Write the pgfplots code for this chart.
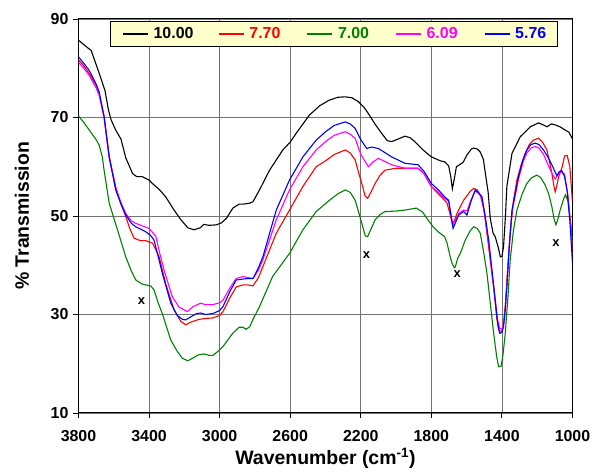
\documentclass[border=0pt]{standalone}
\usepackage{pgfplots}
\pgfplotsset{compat=1.18}
\usepackage{fontspec}
\setmainfont{Liberation Sans}
\definecolor{cgreen}{RGB}{0,128,0}
\definecolor{cmag}{RGB}{255,0,255}
\definecolor{cblue}{RGB}{0,0,255}
\definecolor{cred}{RGB}{255,0,0}
\definecolor{legbg}{RGB}{255,255,204}
\begin{document}
\begin{tikzpicture}
\begin{axis}[
  scale only axis,
  width=494bp, height=394bp,
  x dir=reverse,
  xmin=1000, xmax=3800, ymin=10, ymax=90,
  xtick={1000,1400,...,3800}, ytick={10,30,...,90},
  grid=major,
  major grid style={black!55, line width=0.75bp},
  axis line style={line width=1bp},
  tick align=outside, tick pos=left,
  major tick length=5bp,
  tick style={black, line width=0.9bp},
  /pgf/number format/assume math mode=true,
  /pgf/number format/1000 sep={},
  ticklabel style={font=\fontsize{16}{18}\selectfont\bfseries},
  xticklabel style={yshift=-8.5bp},
  yticklabel style={xshift=-1.5bp},
  xlabel={Wavenumber (cm\textsuperscript{-1})},
  ylabel={\% Transmission},
  every axis x label/.style={at={(rel axis cs:0.5,0)}, anchor=base, yshift=-52bp,
    font=\fontsize{19.5}{22}\selectfont\bfseries},
  every axis y label/.style={at={(rel axis cs:0,0.5)}, anchor=center, rotate=90, yshift=56.5bp,
    font=\fontsize{19.5}{22}\selectfont\bfseries},
  legend columns=5,
  legend image code/.code={\draw[#1] (0bp,0bp) -- (25bp,0bp);},
  legend style={at={(0.0638,0.9957)}, anchor=north west,
    fill=legbg, draw=black, line width=1bp,
    font=\fontsize{16}{18}\selectfont\bfseries,
    nodes={inner sep=0pt},
    inner xsep=12bp, inner ysep=6.5bp,
    /tikz/every odd column/.append style={column sep=5bp},
    /tikz/every even column/.append style={column sep=10bp}},
  every axis plot/.append style={line width=1.1bp},
]
\addplot[black] coordinates {
(3800,85.7)(3760,84.5)(3728,83.6)(3683,79.0)(3650,75.5)(3630,71.5)(3616,69.6)(3590,67.5)(3559,65.6)(3532,61.8)(3493,58.6)(3470,58.0)(3440,58.0)(3400,57.3)(3381,56.6)(3340,55.3)(3306,53.9)(3260,51.3)(3221,49.3)(3180,47.6)(3145,47.2)(3110,47.6)(3090,48.3)(3060,48.1)(3019,48.2)(2990,48.6)(2962,49.5)(2925,51.6)(2890,52.4)(2868,52.4)(2830,52.6)(2811,52.9)(2774,55.3)(2717,59.3)(2642,63.4)(2600,65.0)(2566,66.8)(2491,70.5)(2432,72.4)(2380,73.5)(2330,74.1)(2288,74.2)(2250,74.0)(2213,73.2)(2180,72.0)(2157,70.8)(2120,68.7)(2082,66.8)(2050,65.3)(2025,65.1)(1990,65.6)(1950,66.2)(1920,65.9)(1894,65.1)(1850,63.5)(1800,62.0)(1749,61.2)(1725,61.0)(1702,60.2)(1690,58.0)(1681,55.5)(1670,57.5)(1658,60.0)(1640,60.4)(1620,60.9)(1598,62.4)(1573,63.6)(1560,63.8)(1540,63.6)(1523,63.0)(1505,61.5)(1494,58.7)(1478,54.8)(1466,49.5)(1450,46.5)(1438,45.8)(1420,43.5)(1409,41.7)(1400,41.8)(1391,43.7)(1380,50.0)(1372,56.0)(1343,62.7)(1296,66.1)(1261,67.3)(1240,68.1)(1192,68.9)(1160,68.4)(1145,68.1)(1120,68.7)(1098,68.5)(1070,68.1)(1053,67.7)(1020,67.0)(1000,65.6)
};
\addlegendentry{\makebox[54.7bp][l]{10.00}}
\addplot[cred] coordinates {
(3800,81.7)(3770,80.5)(3740,79.0)(3700,76.5)(3683,74.9)(3655,70.2)(3626,62.0)(3589,55.9)(3560,52.5)(3532,49.9)(3510,47.5)(3485,45.5)(3450,45.0)(3420,45.0)(3381,44.5)(3360,43.0)(3343,41.7)(3306,36.3)(3258,30.9)(3220,28.6)(3192,27.9)(3160,28.5)(3117,29.0)(3080,29.2)(3038,29.3)(3000,29.8)(2981,30.6)(2940,33.5)(2906,35.6)(2868,36.0)(2840,36.0)(2811,35.8)(2780,37.5)(2755,39.7)(2679,46.5)(2604,51.2)(2528,56.0)(2453,60.0)(2400,61.2)(2350,62.5)(2288,63.4)(2260,62.8)(2232,61.4)(2210,58.5)(2194,56.6)(2175,54.0)(2161,53.6)(2140,55.0)(2119,56.6)(2090,58.3)(2063,59.3)(2000,59.7)(1950,59.7)(1875,59.7)(1840,58.5)(1800,56.0)(1760,54.5)(1725,53.2)(1711,52.6)(1695,50.5)(1679,48.2)(1665,49.5)(1655,50.5)(1617,53.2)(1580,55.0)(1560,55.6)(1540,55.3)(1523,54.3)(1500,51.0)(1485,46.5)(1466,41.0)(1447,35.6)(1430,29.5)(1419,26.8)(1400,26.5)(1388,28.5)(1381,31.6)(1368,39.0)(1353,46.5)(1335,53.0)(1315,57.3)(1290,60.5)(1268,62.7)(1245,64.5)(1221,65.4)(1192,65.8)(1170,65.0)(1145,63.4)(1130,61.0)(1117,58.7)(1105,56.0)(1098,54.9)(1090,56.0)(1079,57.9)(1058,60.0)(1045,62.2)(1030,62.3)(1015,60.0)(1000,52.8)
};
\addlegendentry{\makebox[47.5bp][l]{\textcolor{cred}{7.70}}}
\addplot[cgreen] coordinates {
(3800,70.3)(3770,69.0)(3740,67.5)(3700,65.5)(3683,64.4)(3665,62.0)(3655,59.3)(3626,52.6)(3579,47.2)(3532,41.7)(3500,38.8)(3475,37.0)(3440,36.2)(3419,36.0)(3390,35.8)(3372,35.0)(3350,32.5)(3325,30.2)(3277,24.8)(3240,22.5)(3211,21.1)(3180,20.6)(3155,21.1)(3120,21.8)(3089,22.0)(3060,21.7)(3038,21.7)(3010,22.5)(2981,23.5)(2940,25.5)(2925,26.2)(2890,27.4)(2868,27.4)(2850,27.0)(2830,27.5)(2811,29.0)(2774,31.6)(2700,37.7)(2604,42.4)(2528,47.2)(2453,50.9)(2377,53.2)(2330,54.5)(2288,55.3)(2260,54.8)(2232,53.2)(2210,50.5)(2194,48.5)(2175,46.0)(2161,45.8)(2140,47.5)(2119,49.2)(2090,50.3)(2063,50.9)(2000,51.0)(1950,51.2)(1885,51.6)(1850,50.8)(1819,49.2)(1790,47.8)(1762,46.8)(1725,45.8)(1711,44.5)(1695,42.0)(1683,40.4)(1670,39.5)(1664,39.7)(1650,41.5)(1636,42.4)(1608,45.1)(1580,47.0)(1560,47.8)(1540,47.5)(1523,46.5)(1505,43.0)(1485,38.4)(1465,32.0)(1447,26.2)(1430,21.5)(1419,19.4)(1405,19.5)(1395,21.5)(1381,26.2)(1365,34.0)(1353,41.1)(1335,47.0)(1315,51.2)(1285,54.5)(1259,56.6)(1230,57.8)(1202,58.3)(1180,57.8)(1155,56.3)(1135,54.5)(1117,51.9)(1105,49.5)(1094,48.2)(1082,49.5)(1070,51.2)(1050,53.5)(1040,54.3)(1025,53.0)(1010,48.5)(1000,44.0)
};
\addlegendentry{\makebox[47.5bp][l]{\textcolor{cgreen}{7.00}}}
\addplot[cmag] coordinates {
(3800,81.2)(3770,80.0)(3740,78.6)(3700,76.0)(3683,74.5)(3655,70.0)(3626,62.0)(3589,55.5)(3560,52.8)(3532,50.5)(3500,49.0)(3475,48.5)(3440,48.0)(3400,47.5)(3362,45.9)(3340,42.5)(3315,39.0)(3268,33.6)(3230,31.5)(3183,30.6)(3150,31.6)(3108,32.3)(3080,32.0)(3038,32.0)(3000,32.4)(2981,32.9)(2940,35.5)(2906,37.3)(2868,37.7)(2840,37.5)(2811,37.3)(2780,39.0)(2755,41.1)(2679,49.2)(2604,55.3)(2528,60.0)(2453,63.4)(2400,65.1)(2350,66.4)(2288,67.1)(2260,66.6)(2232,65.8)(2200,62.5)(2157,60.0)(2130,61.0)(2100,61.7)(2060,61.0)(2025,60.4)(1950,59.7)(1875,59.7)(1840,58.5)(1800,56.0)(1760,54.8)(1725,53.6)(1702,53.0)(1690,50.5)(1679,48.2)(1665,49.0)(1645,50.5)(1617,51.2)(1598,51.0)(1575,53.3)(1551,55.1)(1530,54.5)(1513,53.5)(1495,49.5)(1475,44.5)(1455,38.0)(1438,33.0)(1425,29.0)(1413,27.2)(1400,27.0)(1391,28.2)(1380,32.0)(1372,36.0)(1358,44.0)(1343,50.8)(1306,57.5)(1280,61.0)(1259,62.8)(1235,63.8)(1211,64.1)(1190,63.8)(1164,62.5)(1140,60.5)(1117,58.7)(1098,57.5)(1080,58.5)(1062,59.0)(1045,58.5)(1025,54.0)(1010,48.0)(1000,42.6)
};
\addlegendentry{\makebox[47.5bp][l]{\textcolor{cmag}{6.09}}}
\addplot[cblue] coordinates {
(3800,82.3)(3770,81.0)(3740,79.6)(3700,76.8)(3683,75.2)(3655,70.2)(3626,62.0)(3589,55.3)(3560,52.5)(3532,50.2)(3500,48.5)(3475,47.8)(3440,47.2)(3419,46.8)(3390,46.0)(3372,45.1)(3350,42.0)(3325,38.4)(3277,32.3)(3240,29.8)(3210,29.0)(3192,28.9)(3160,29.6)(3130,30.2)(3108,30.3)(3080,30.0)(3038,30.2)(3000,30.8)(2981,31.6)(2940,34.8)(2906,37.0)(2868,37.2)(2840,37.3)(2811,37.3)(2780,39.5)(2755,41.7)(2679,51.2)(2604,57.3)(2528,62.0)(2453,65.4)(2400,67.1)(2350,68.4)(2288,69.1)(2260,68.7)(2232,67.8)(2200,65.5)(2166,63.7)(2140,64.0)(2100,63.7)(2060,62.8)(2025,62.0)(1950,60.7)(1875,60.4)(1840,59.0)(1800,56.6)(1760,55.3)(1725,53.9)(1702,53.2)(1690,50.5)(1677,47.5)(1665,48.5)(1645,50.2)(1617,50.9)(1598,50.2)(1575,53.0)(1551,55.3)(1530,54.6)(1513,53.9)(1495,50.0)(1475,45.1)(1455,38.5)(1438,32.9)(1425,28.5)(1413,26.2)(1400,26.3)(1391,27.5)(1380,31.5)(1372,35.6)(1358,44.0)(1343,51.2)(1306,58.0)(1280,61.5)(1259,63.4)(1235,64.5)(1211,64.8)(1190,64.5)(1164,63.4)(1140,62.0)(1117,60.4)(1089,58.2)(1075,59.0)(1061,59.2)(1045,58.0)(1030,55.0)(1015,49.0)(1000,40.4)
};
\addlegendentry{\makebox[30bp][l]{\textcolor{cblue}{5.76}}}
\coordinate (SW) at (rel axis cs:0,0);
\coordinate (NE) at (rel axis cs:1,1);
\node[font=\fontsize{13}{15}\selectfont\bfseries] at (axis cs:3443,32.7) {x};
\node[font=\fontsize{13}{15}\selectfont\bfseries] at (axis cs:2168,42.0) {x};
\node[font=\fontsize{13}{15}\selectfont\bfseries] at (axis cs:1654,38.2) {x};
\node[font=\fontsize{13}{15}\selectfont\bfseries] at (axis cs:1094,44.5) {x};
\end{axis}
\pgfresetboundingbox
\path[use as bounding box] ([xshift=-78.5bp,yshift=-61bp]SW) rectangle ([xshift=23.5bp,yshift=19bp]NE);
\end{tikzpicture}
\end{document}
